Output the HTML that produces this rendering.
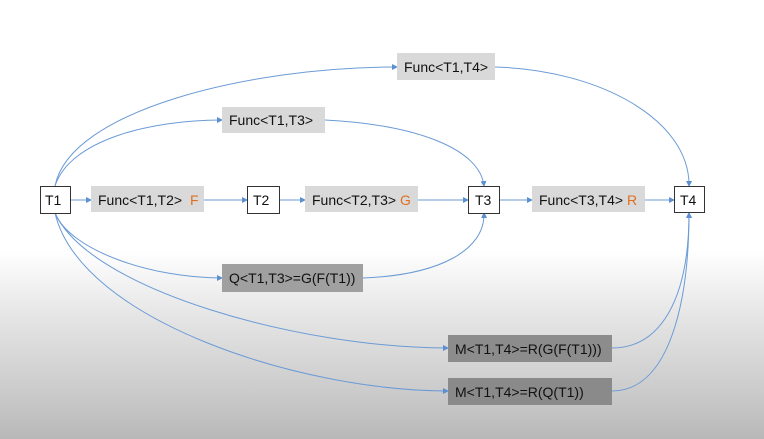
<!DOCTYPE html>
<html><head><style>
body{margin:0;width:764px;height:439px;overflow:hidden;background:linear-gradient(to bottom,#fff 0,#fff 250px,#e4e4e4 320px,#c8c8c8 400px,#b8b8b8 439px);}
svg{position:absolute;left:0;top:0}
text{font-family:"Liberation Sans",sans-serif;font-size:14px;fill:#111}
</style></head><body>
<svg width="764" height="439" viewBox="0 0 764 439">
<defs><marker id="a" markerWidth="6" markerHeight="6" refX="5" refY="3" orient="auto" markerUnits="userSpaceOnUse"><path d="M0,0 L6,3 L0,6z" fill="#5b8fd0"/></marker></defs>
<g fill="none" stroke="#6b9bd6" stroke-width="1" marker-end="url(#a)">
<path d="M70,200 H91"/><path d="M204,200 H247"/><path d="M279,200 H305"/><path d="M418,200 H468"/><path d="M500,200 H532"/><path d="M645,200 H674"/>
<path d="M55,186 C70,110 250,67 397,67"/>
<path d="M55,186 C70,140 150,120 222,120"/>
<path d="M325,120 C420,125 480,150 484,186"/>
<path d="M495,67 C600,70 690,120 689,186"/>
<path d="M363,278 C440,275 485,250 484,213"/>
<path d="M55,213 C70,250 150,278 222,278"/>
<path d="M55,213 C90,290 300,348 448,348"/>
<path d="M55,213 C80,320 300,391 448,391"/>
<path d="M612,348 C660,348 689,300 689,213"/>
<path d="M612,391 C670,391 689,300 689,213"/>
</g>
<g stroke="#333" fill="#fff"><rect x="40.5" y="186.5" width="30" height="27"/><rect x="247.5" y="186.5" width="32" height="27"/><rect x="468.5" y="186.5" width="31" height="27"/><rect x="674.5" y="186.5" width="30" height="26"/></g>
<g fill="#d9d9d9"><rect x="91" y="186" width="113" height="26"/><rect x="305" y="186" width="113" height="26"/><rect x="532" y="186" width="113" height="26"/><rect x="222" y="107" width="103" height="26"/><rect x="397" y="53" width="98" height="27"/></g>
<rect x="222" y="264" width="141" height="28" fill="#a0a0a0"/>
<rect x="448" y="335" width="164" height="27" fill="#8c8c8c"/>
<rect x="448" y="378" width="164" height="27" fill="#8a8a8a"/>
<text x="45" y="205">T1</text><text x="253" y="205">T2</text><text x="475" y="205">T3</text><text x="680" y="205">T4</text>
<text x="98" y="205">Func&lt;T1,T2&gt; <tspan fill="#e07020" dx="4">F</tspan></text>
<text x="312" y="205">Func&lt;T2,T3&gt; <tspan fill="#e07020">G</tspan></text>
<text x="539" y="205">Func&lt;T3,T4&gt; <tspan fill="#e07020">R</tspan></text>
<text x="229" y="125">Func&lt;T1,T3&gt;</text>
<text x="404" y="72">Func&lt;T1,T4&gt;</text>
<text x="229" y="283">Q&lt;T1,T3&gt;=G(F(T1))</text>
<text x="455" y="354">M&lt;T1,T4&gt;=R(G(F(T1)))</text>
<text x="455" y="397">M&lt;T1,T4&gt;=R(Q(T1))</text>
</svg>
</body></html>
